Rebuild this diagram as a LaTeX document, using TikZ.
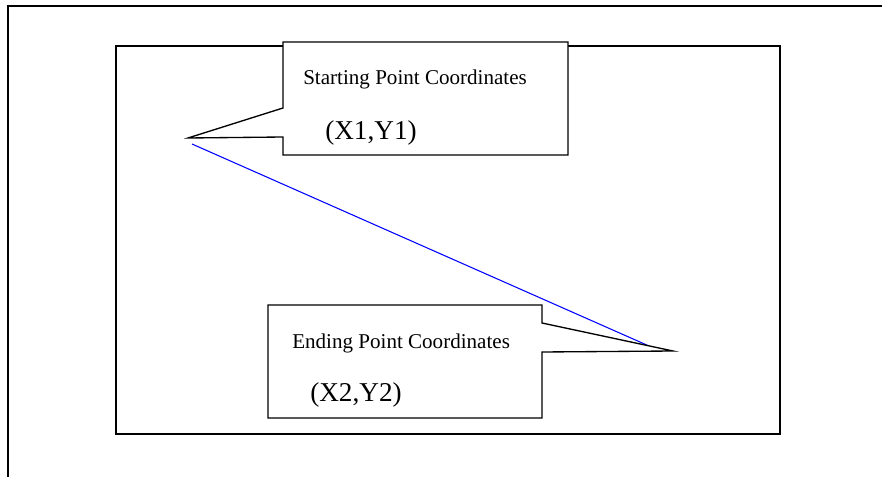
\documentclass[tikz,border=0pt]{standalone}
\usepackage{fontspec}
\setmainfont{Liberation Serif}
\usetikzlibrary{positioning}

\begin{document}
\begin{tikzpicture}[x=0.75pt,y=-0.75pt,
 frame/.style={draw=black,line width=1pt},
 callout/.style={draw=black,fill=white,line width=1pt},
 seg/.style={draw=blue,line width=0.8pt},
 lbl/.style={anchor=base west,inner sep=0pt,font=\fontsize{15.8}{18}\selectfont},
 crd/.style={anchor=base west,inner sep=0pt,font=\fontsize{20.4}{24}\selectfont}]
\useasboundingbox (0,0) rectangle (882,477);
% page frame and screen
\draw[frame] (8,477) -- (8,6) -- (882,6);
\draw[frame] (116,46) rectangle (780,434);
% the line between the two points
\coordinate (from) at (192,144);
\coordinate (to) at (649,346);
\draw[seg] (from) -- (to);
% starting point callout
\coordinate (tipS) at (188,138);
\draw[callout] (283,42) -- (568,42) -- (568,155) -- (283,155) -- (283,137)
 -- (tipS) -- (283,108) -- cycle;
\node[lbl] (sname) at (303,85) {Starting Point Coordinates};
\node[crd] (sxy) at (325,140) {(X1,Y1)};
% ending point callout
\coordinate (tipE) at (673,351);
\draw[callout] (268,305) -- (542,305) -- (542,323) -- (tipE) -- (542,352)
 -- (542,418) -- (268,418) -- cycle;
\node[lbl] (ename) at (292,349) {Ending Point Coordinates};
\node[crd] (exy) at (310,402) {(X2,Y2)};
\end{tikzpicture}
\end{document}
